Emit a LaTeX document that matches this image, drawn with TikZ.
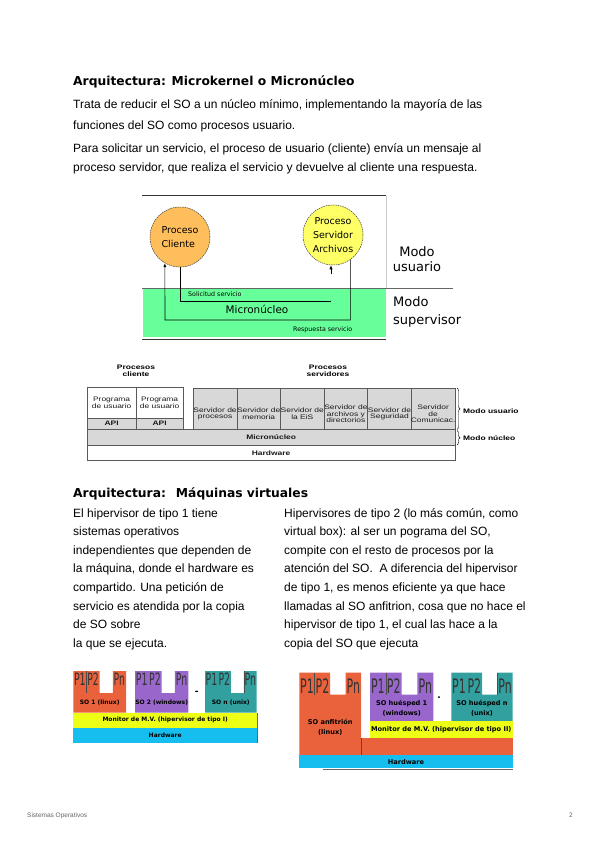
\documentclass[tikz,border=0pt]{standalone}
\usepackage{fontspec}
\setmainfont{Liberation Sans}
\newfontfamily\dvs{DejaVu Sans}
\newfontfamily\tabfont[FakeStretch=1.3]{Liberation Sans}
\newfontfamily\pfont[FakeStretch=0.55]{DejaVu Sans}
\usetikzlibrary{arrows.meta,positioning,decorations.pathreplacing}
\definecolor{cliorange}{RGB}{254,190,92}
\definecolor{srvyellow}{RGB}{255,255,102}
\definecolor{kgreen}{RGB}{102,255,153}
\definecolor{tgray}{RGB}{216,216,216}
\definecolor{soorange}{RGB}{234,98,60}
\definecolor{sopurple}{RGB}{153,102,204}
\definecolor{soteal}{RGB}{51,160,160}
\definecolor{mvyellow}{RGB}{236,255,20}
\definecolor{hwcyan}{RGB}{22,190,240}
\tikzset{body/.style={anchor=base west,inner sep=0,font=\fontsize{12}{14}\selectfont},
 ttl/.style={anchor=base west,inner sep=0,font=\dvs\bfseries\fontsize{12.3}{15}\selectfont},
 proc/.style={circle,draw=black!75,dash pattern=on 1.6pt off .8pt,line width=.5pt,minimum size=60pt,inner sep=0,font=\dvs\fontsize{9.5}{14}\selectfont},
 flow/.style={-{Latex[length=4pt,width=3.2pt]},line width=.6pt},
 wire/.style={line width=.6pt},
 tiny/.style={inner sep=0,font=\dvs\fontsize{6.3}{7}\selectfont},
 modo/.style={anchor=base,inner sep=0,font=\dvs\fontsize{13}{15}\selectfont},
 cell/.style={draw=black!65,line width=.5pt,inner sep=0,align=center,text=black!90,font=\tabfont\fontsize{6.5}{6.8}\selectfont},
 gcell/.style={cell,fill=tgray},
 bcell/.style={cell,font=\tabfont\bfseries\fontsize{6.5}{6.8}\selectfont},
 tlab/.style={inner sep=0,align=center,font=\tabfont\bfseries\fontsize{6.5}{7.5}\selectfont},
 brc/.style={decorate,decoration={brace,amplitude=3pt},line width=.4pt},
 vm/.style={inner sep=0,align=center,font=\dvs\bfseries\fontsize{6}{9}\selectfont},
 vm2/.style={vm,font=\dvs\bfseries\fontsize{6.6}{10}\selectfont},
 plab/.style={anchor=base,inner sep=0,text=black!80},
 pdiv/.style={line width=.5pt,black!70},
 foot/.style={inner sep=0,text=black!60,font=\fontsize{6.5}{8}\selectfont}}
\newcommand{\soblock}[8]{% name, left, right, top, bottom, colour, P size, P baseline
 \fill[#6] (#2,#4) -- (#2,#5) -- (#3,#5) -- (#3,#4) -- ({#2+.75*(#3-#2)},#4)
  -- ({#2+.75*(#3-#2)},{#4+22}) -- ({#2+.5*(#3-#2)},{#4+22}) -- ({#2+.5*(#3-#2)},#4) -- cycle;
 \node[plab,font=\pfont\fontsize{#7}{#7}\selectfont] (#1a) at ({#2+.125*(#3-#2)},{#4+#8}) {P1};
 \node[plab,font=\pfont\fontsize{#7}{#7}\selectfont] (#1b) at ({#2+.375*(#3-#2)},{#4+#8}) {P2};
 \node[plab,font=\pfont\fontsize{#7}{#7}\selectfont] (#1n) at ({#2+.875*(#3-#2)},{#4+#8}) {Pn};}
\begin{document}
\begin{tikzpicture}[x=1pt,y=-1pt]
\useasboundingbox[fill=white] (0,0) rectangle (600,848);
% microkernel
\node[ttl] (t1) at (73,86) {Arquitectura: Microkernel o Micronúcleo};
\node[body] (p1a) at (73,109) {Trata de reducir el SO a un núcleo mínimo, implementando la mayoría de las};
\node[body] (p1b) at (73,129) {funciones del SO como procesos usuario.};
\node[body] (p2a) at (73,152) {Para solicitar un servicio, el proceso de usuario (cliente) envía un mensaje al};
\node[body] (p2b) at (73,171) {proceso servidor, que realiza el servicio y devuelve al cliente una respuesta.};
\fill[kgreen] (143,289) rectangle (386,337);
\draw[black!80,line width=.6pt] (142,195.5) -- (386,195.5);
\draw[black!20,line width=.8pt] (386,195.5) -- (386,288);
\draw[black!60,line width=.7pt] (142,288) -- (453,288);
\draw[black!80,line width=.6pt] (142,339.5) -- (386,339.5);
\node[proc,fill=cliorange,align=left] (cli) at (180,237) {Proceso\\Cliente};
\node[proc,fill=srvyellow,align=center] (srv) at (333,235) {Proceso\\Servidor\\Archivos};
\coordinate (sreq) at (331,301); \coordinate (sgap) at (331,274); \coordinate (rsp) at (165,320);
\draw[wire] (cli.south) |- (sreq);
\draw[flow] (sgap) -- (sgap |- srv.south);
\draw[flow] (srv.-55) |- (rsp) -- (cli.-120);
\node[tiny,anchor=west] (sol) at (188,294.5) {Solicitud servicio};
\node[inner sep=0,font=\dvs\fontsize{10.4}{12}\selectfont] (mic) at (257,309) {Micronúcleo};
\node[tiny,anchor=west] (res) at (293,329.5) {Respuesta servicio};
\node[modo] (mu1) at (417,256) {Modo};
\node[modo] (mu2) at (417,271) {usuario};
\node[modo,anchor=base west] (ms1) at (393,306) {Modo};
\node[modo,anchor=base west] (ms2) at (393,324) {supervisor};
% clientes y servidores
\node[tlab] (pcl) at (136,371) {Procesos\\cliente};
\node[tlab] (psv) at (328,371) {Procesos\\servidores};
\node[cell,minimum width=48.7,minimum height=30.7] (pu1) at (111.65,402.65) {Programa\\de usuario};
\node[cell,minimum width=47.3,minimum height=30.7] (pu2) at (159.65,402.65) {Programa\\de usuario};
\node[gcell,bcell,minimum width=48.7,minimum height=11.5] (api1) at (111.65,423.75) {API};
\node[gcell,bcell,minimum width=47.3,minimum height=11.5] (api2) at (159.65,423.75) {API};
\foreach \t [count=\i] in {{Servidor de\\procesos},{Servidor de\\memoria},{Servidor de\\la EiS},{Servidor de\\archivos y\\directorios},{Servidor de\\Seguridad},{Servidor\\de\\Comunicac.}}{
 \node[gcell,minimum width=43.6,minimum height=41.5] (sv\i) at ({193.3+43.6*(\i-.5)},408.75) {};
 \node[cell,draw=none] (svt\i) at ([yshift=-5pt]sv\i.center) {\t};}
\node[gcell,bcell,minimum width=367.7,minimum height=15.5] (mk) at (271.15,437.25) {Micronúcleo};
\node[bcell,minimum width=367.7,minimum height=15.5] (hw) at (271.15,452.75) {Hardware};
\draw[brc] (457,388) -- (457,429.5);
\node[tlab,anchor=west] (bmu) at (463,411) {Modo usuario};
\draw[brc] (457,430.5) -- (457,445);
\node[tlab,anchor=west] (bmn) at (463,438.5) {Modo núcleo};
% maquinas virtuales
\node[ttl] (t2) at (73,497) {Arquitectura:~ Máquinas virtuales};
\foreach \t [count=\i] in {{El hipervisor de tipo 1 tiene},{sistemas operativos},{independientes que dependen de},{la máquina, donde el hardware es},{compartido. Una petición de},{servicio es atendida por la copia},{de SO sobre},{la que se ejecuta.}}
 \node[body] (lc\i) at (73,{517+18.6*(\i-1)}) {\t};
\foreach \t [count=\i] in {{Hipervisores de tipo 2 (lo más común, como},{virtual box): al ser un pograma del SO,},{compite con el resto de procesos por la},{atención del SO.~ A diferencia del hipervisor},{de tipo 1, es menos eficiente ya que hace},{llamadas al SO anfitrion, cosa que no hace el},{hipervisor de tipo 1, el cual las hace a la},{copia del SO que ejecuta}}
 \node[body] (rc\i) at (284,{517+18.6*(\i-1)}) {\t};
% tipo 1
\soblock{so1}{73.3}{126}{671}{712.7}{soorange}{17}{14}
\soblock{so2}{135}{188.3}{671}{712.7}{sopurple}{17}{14}
\soblock{son}{205}{256.7}{671}{712.7}{soteal}{17}{14}
\draw[pdiv] (86.5,671) -- (86.5,693);
\draw[pdiv] (243.8,671) -- (243.8,693);
\fill[mvyellow] (73.3,712.7) rectangle (257,727.7);
\fill[hwcyan] (73.3,727.7) rectangle (257,742.7);
\draw[black!60,line width=.6pt] (257.5,713) -- (257.5,743);
\node[vm] (so1t) at (99.7,703) {SO 1 (linux)};
\node[vm] (so2t) at (161.7,703) {SO 2 (windows)};
\node[vm] (sont) at (230.8,703) {SO n (unix)};
\node[inner sep=0,font=\dvs\bfseries\fontsize{9}{9}\selectfont] (gap1) at (196.7,693) {-};
\node[vm] (mv1) at (165.2,720.2) {Monitor de M.V. (hipervisor de tipo I)};
\node[vm] (hw1) at (165.2,735.2) {Hardware};
% tipo 2
\soblock{anf}{299.3}{361}{672.7}{755}{soorange}{20}{20.6}
\fill[soorange] (361,738.3) rectangle (512.7,755);
\soblock{hu1}{370}{433.3}{672.7}{721}{sopurple}{20}{20.6}
\soblock{hun}{451.3}{512.7}{672.7}{721}{soteal}{20}{20.6}
\fill[mvyellow] (370,721) rectangle (512.7,738.3);
\fill[hwcyan] (299.3,755) rectangle (512.7,768.3);
\draw[pdiv] (314.7,672.7) -- (314.7,694.7);
\draw[pdiv] (385.8,672.7) -- (385.8,694.7);
\draw[pdiv] (497.4,672.7) -- (497.4,694.7);
\draw[pdiv] (361,738.3) -- (361,755);
\draw[black!60,line width=.6pt] (323,768.8) -- (512.7,768.8);
\node[vm2] (anft) at (330.2,727.5) {SO anfitrión\\(linux)};
\node[vm2] (hu1t) at (401.7,708.7) {SO huésped 1\\(windows)};
\node[vm2] (hunt) at (482,708.7) {SO huésped n\\(unix)};
\node[inner sep=0,font=\dvs\bfseries\fontsize{9}{9}\selectfont] (gap2) at (439,698) {.};
\node[vm2] (mv2) at (441.3,729.7) {Monitor de M.V. (hipervisor de tipo II)};
\node[vm2] (hw2) at (406,761.7) {Hardware};
% pie
\node[foot,anchor=base west] (fl) at (27,817) {Sistemas Operativos};
\node[foot,anchor=base east] (fr) at (573,817) {2};
\end{tikzpicture}
\end{document}
